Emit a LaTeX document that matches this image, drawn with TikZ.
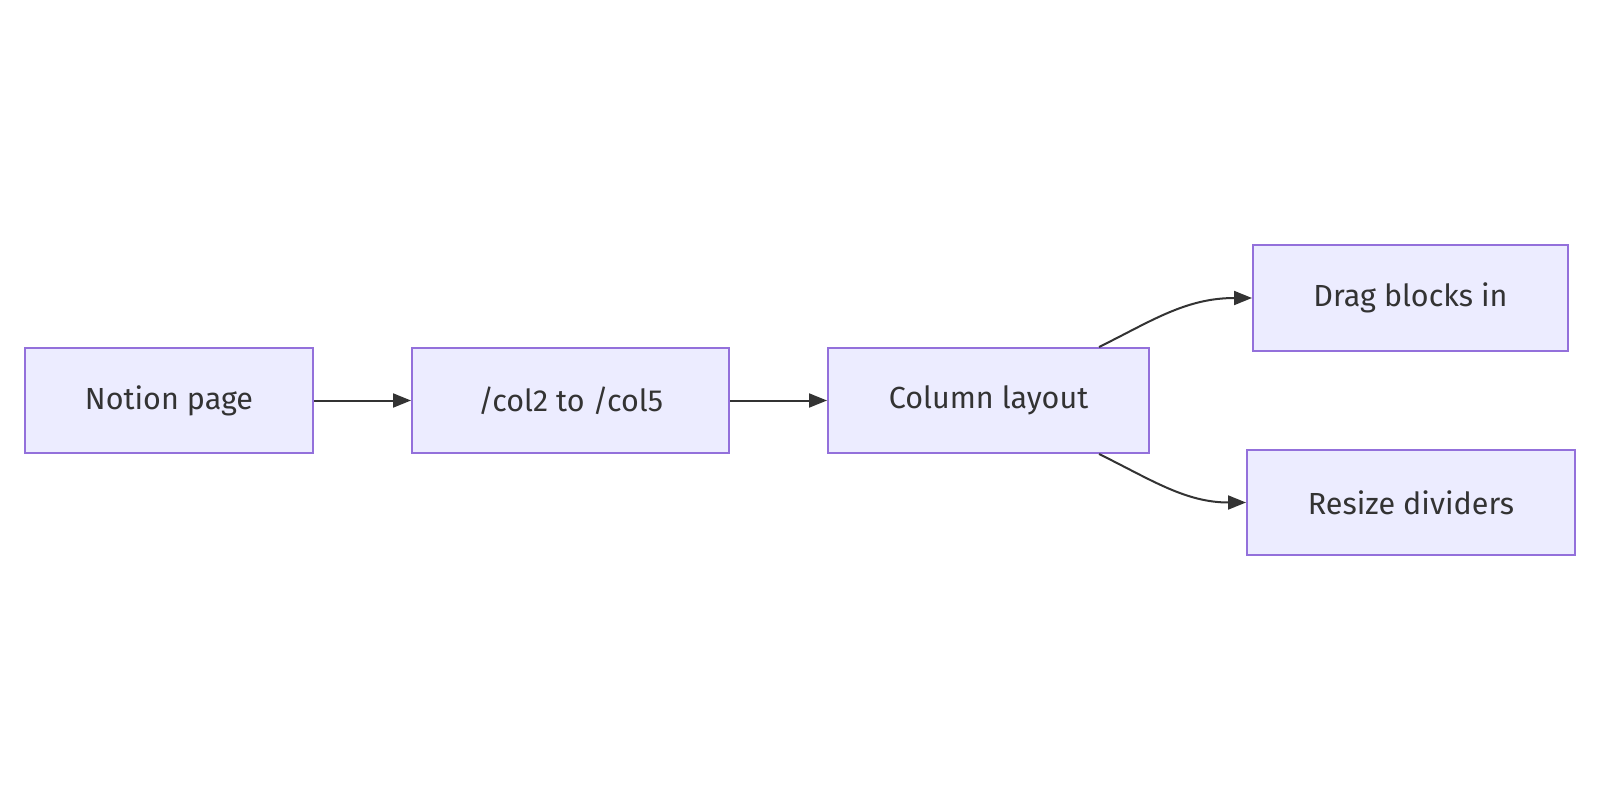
\documentclass[tikz,border=0pt]{standalone}
\usepackage{fontspec}
\setmainfont{Fira Sans}
\usetikzlibrary{arrows.meta}
\definecolor{nodefill}{HTML}{ECECFF}
\definecolor{nodeborder}{HTML}{9370DB}
\definecolor{edgecol}{HTML}{333333}
\begin{document}
\begin{tikzpicture}[x=1pt,y=-1pt,
  box/.style={draw=nodeborder,fill=nodefill,line width=2pt,minimum height=105pt,inner sep=0pt,
    font=\fontsize{30.5}{36}\selectfont,text=edgecol},
  link/.style={draw=edgecol,line width=2pt,-{Triangle[length=18pt,width=14pt]}}]
\useasboundingbox (0,0) rectangle (1600,800);
\node[box,minimum width=288pt] (n) at (169,400.5) {Notion page};
\node[box,minimum width=317pt] (c) at (570.5,400.5) {/col2 to /col5};
\node[box,minimum width=321pt] (l) at (988.5,400.5) {Column layout};
\node[box,minimum width=315pt,minimum height=106pt] (d) at (1410.5,298) {Drag blocks in};
\node[box,minimum width=328pt] (r) at (1411,502.5) {Resize dividers};
\draw[link] (n) -- (c);
\draw[link] (c) -- (l);
\coordinate (lt) at ([xshift=-51pt]l.north east);
\coordinate (lb) at ([xshift=-51pt]l.south east);
\draw[link] (lt) .. controls (1150,322) and (1185,298) .. (d.west);
\draw[link] (lb) .. controls (1150,479) and (1185,502.5) .. (r.west);
\end{tikzpicture}
\end{document}
